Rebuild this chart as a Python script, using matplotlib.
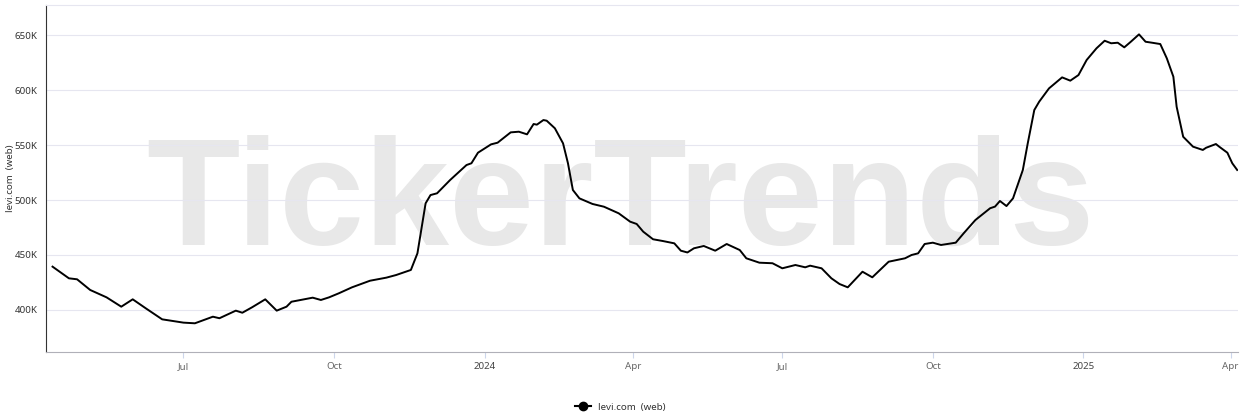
import pandas as pd
import matplotlib
matplotlib.use("Agg")
import matplotlib.pyplot as plt
from matplotlib.lines import Line2D
from matplotlib.ticker import FuncFormatter

# levi.com (web) visits (thousands)
dates = [
    "2023-04-12", "2023-04-22", "2023-04-27", "2023-05-05", "2023-05-15", "2023-05-24",
    "2023-05-31", "2023-06-08", "2023-06-18", "2023-07-01", "2023-07-08", "2023-07-19",
    "2023-07-23", "2023-08-02", "2023-08-06", "2023-08-12", "2023-08-20", "2023-08-27",
    "2023-09-02", "2023-09-05", "2023-09-18", "2023-09-23", "2023-09-28", "2023-10-04",
    "2023-10-12", "2023-10-23", "2023-11-02", "2023-11-08", "2023-11-17", "2023-11-21",
    "2023-11-26", "2023-11-29", "2023-12-03", "2023-12-11", "2023-12-21", "2023-12-24",
    "2023-12-28", "2024-01-05", "2024-01-09", "2024-01-17", "2024-01-22", "2024-01-27",
    "2024-01-31", "2024-02-02", "2024-02-06", "2024-02-08", "2024-02-13", "2024-02-18",
    "2024-02-21", "2024-02-24", "2024-02-28", "2024-03-07", "2024-03-14", "2024-03-23",
    "2024-03-30", "2024-04-03", "2024-04-07", "2024-04-13", "2024-04-19", "2024-04-26",
    "2024-04-30", "2024-05-04", "2024-05-08", "2024-05-14", "2024-05-21", "2024-05-28",
    "2024-06-05", "2024-06-09", "2024-06-17", "2024-06-25", "2024-07-01", "2024-07-09",
    "2024-07-15", "2024-07-18", "2024-07-25", "2024-07-31", "2024-08-05", "2024-08-10",
    "2024-08-19", "2024-08-25", "2024-09-04", "2024-09-14", "2024-09-18", "2024-09-22",
    "2024-09-26", "2024-10-01", "2024-10-06", "2024-10-15", "2024-10-20", "2024-10-27",
    "2024-11-05", "2024-11-08", "2024-11-11", "2024-11-15", "2024-11-19", "2024-11-25",
    "2024-11-28", "2024-12-02", "2024-12-05", "2024-12-11", "2024-12-19", "2024-12-24",
    "2024-12-29", "2025-01-03", "2025-01-09", "2025-01-14", "2025-01-18", "2025-01-22",
    "2025-01-26", "2025-01-30", "2025-02-04", "2025-02-08", "2025-02-12", "2025-02-17",
    "2025-02-21", "2025-02-25", "2025-02-27", "2025-03-03", "2025-03-09", "2025-03-15",
    "2025-03-17", "2025-03-23", "2025-03-25", "2025-03-30", "2025-04-02", "2025-04-05",
]
visits_k = [
    439.4, 428.8, 427.9, 418.2, 411.5, 403.0,
    409.7, 401.5, 391.5, 388.5, 387.9, 393.9,
    392.5, 399.4, 397.5, 402.5, 409.7, 399.4,
    403.0, 407.5, 411.2, 409.1, 411.5, 415.2,
    420.6, 426.6, 429.4, 431.8, 436.4, 451.5,
    497.0, 504.5, 506.1, 518.2, 531.8, 533.4,
    543.0, 550.6, 552.1, 561.5, 562.1, 559.7,
    569.1, 568.5, 572.7, 572.1, 565.2, 551.5,
    533.4, 509.1, 501.5, 496.4, 493.9, 487.9,
    480.3, 478.2, 471.2, 464.3, 462.7, 460.6,
    453.9, 452.3, 456.1, 458.2, 453.9, 460.0,
    454.5, 447.0, 443.0, 442.5, 437.9, 440.9,
    438.8, 440.3, 437.9, 428.8, 423.6, 420.6,
    434.8, 429.7, 443.9, 447.0, 450.0, 451.5,
    460.0, 461.2, 459.1, 461.2, 470.0, 481.8,
    492.5, 494.0, 499.1, 494.5, 501.5, 527.3,
    551.5, 581.8, 589.4, 601.5, 611.5, 608.5,
    613.6, 627.3, 637.9, 644.8, 642.5, 643.0,
    638.8, 643.9, 650.6, 643.9, 643.0, 641.8,
    628.8, 612.1, 584.8, 557.5, 548.5, 545.5,
    547.5, 550.9, 548.5, 543.0, 533.4, 527.3,
]
tick_dates = ["2023-07-01", "2023-10-01", "2024-01-01", "2024-04-01",
              "2024-07-01", "2024-10-01", "2025-01-01", "2025-04-01"]
tick_labels = ["Jul", "Oct", "2024", "Apr", "Jul", "Oct", "2025", "Apr"]
y_ticks = [400000, 450000, 500000, 550000, 600000, 650000]

x = pd.to_datetime(dates)
y = [v * 1000 for v in visits_k]

plt.rcParams['font.family'] = ['Noto Sans', 'DejaVu Sans']
fig = plt.figure(figsize=(12.41, 4.15), dpi=100)
ax = fig.add_axes([46 / 1241, 1 - 352 / 415, (1238 - 46) / 1241, (352 - 5) / 415])

# watermark
ax.text(0.5, 1 - 245 / 415, "TickerTrends", transform=fig.transFigure,
        ha="center", va="baseline", fontsize=110, fontweight="bold",
        family="Liberation Sans", color="#e8e8e8", zorder=0.1)

ax.plot(x, y, color="black", linewidth=1.4, zorder=3)

ax.set_xlim(pd.Timestamp("2023-04-08"), pd.Timestamp("2025-04-05 12:00"))
ax.set_ylim(361800, 677300)

ax.set_yticks(y_ticks)
ax.yaxis.set_major_formatter(FuncFormatter(lambda v, p: f"{v / 1000:.0f}K"))
ax.tick_params(axis="y", length=0, labelsize=7, labelcolor="#333333", pad=6)
ax.set_xticks(pd.to_datetime(tick_dates))
ax.set_xticklabels(tick_labels)
ax.tick_params(axis="x", length=4, color="#ccd6eb", labelsize=7, labelcolor="#666666", pad=3)
for i, lab in enumerate(ax.get_xticklabels()):
    if tick_labels[i] in ("2024", "2025"):
        lab.set_fontweight("bold")
        lab.set_color("#444444")

ax.grid(axis="y", color="#e6e6f0", linewidth=0.8)
ax.set_axisbelow(True)
ax.spines["right"].set_visible(False)
ax.spines["top"].set_color("#e6e6f0")
ax.spines["top"].set_linewidth(0.8)
ax.spines["left"].set_color("#333333")
ax.spines["bottom"].set_color("#b0b0b8")

ax.set_ylabel("levi.com  (web)", fontsize=7, color="#333333")
ax.yaxis.set_label_coords(-31 / 1192, 0.5)

handle = Line2D([], [], color="black", marker="o", markersize=6, linewidth=1.5)
fig.legend([handle], ["levi.com  (web)"], loc="center", bbox_to_anchor=(0.5, 1 - 407 / 415),
           frameon=False, fontsize=7, handlelength=1.6, labelcolor="#333333")

fig.savefig("out.png", dpi=100)
